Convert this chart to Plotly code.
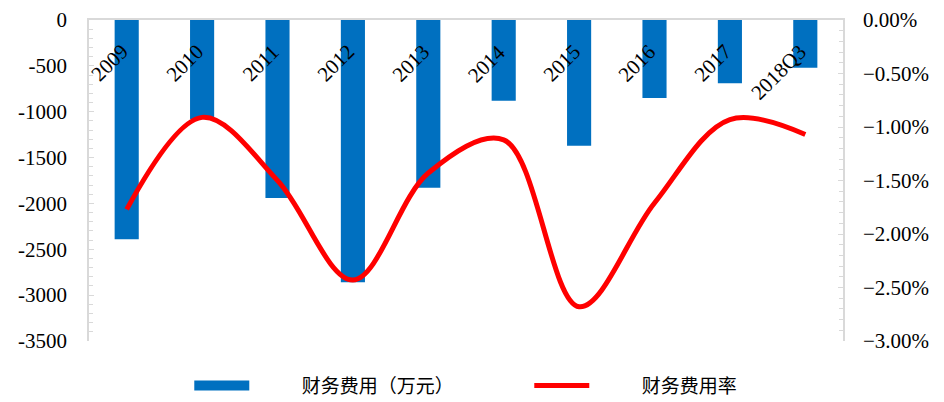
import plotly.graph_objects as go

categories = ["2009", "2010", "2011", "2012", "2013", "2014", "2015", "2016", "2017", "2018Q3"]
expense = [-2390, -1080, -1940, -2860, -1830, -880, -1370, -850, -690, -520]
expense_rate = [-0.0177, -0.0091, -0.0150, -0.0243, -0.0143, -0.0112, -0.0268, -0.0171, -0.0093, -0.0107]
left_ticks = [0, -500, -1000, -1500, -2000, -2500, -3000, -3500]
right_ticks = [0, -0.005, -0.01, -0.015, -0.02, -0.025, -0.03]

serif = "Times New Roman, Liberation Serif, serif"
cjk = "Noto Sans CJK SC"
axis_col = "#d9d9d9"
bar_col = "#0070C0"
pad = "\u2003\u2003\u2002"

fig = go.Figure()
fig.add_trace(go.Bar(
    x=categories, y=expense, name="财务费用（万元）",
    marker=dict(color=bar_col, line=dict(width=0)),
    yaxis="y", showlegend=False, legendgroup="bar",
))
# legend key for the bars (wide rectangle as in the reference)
fig.add_trace(go.Scatter(
    x=[None], y=[None], name=pad + "财务费用（万元）", mode="lines",
    line=dict(color=bar_col, width=11), legendgroup="bar", showlegend=True,
))
fig.add_trace(go.Scatter(
    x=categories, y=expense_rate, name=pad + "财务费用率",
    mode="lines", line=dict(color="#FF0000", width=5, shape="spline", smoothing=1.0),
    yaxis="y2",
))

for i, c in enumerate(categories):
    fig.add_annotation(
        x=i, y=1, xref="x", yref="paper", text=c, showarrow=False,
        textangle=-45, xanchor="right", yanchor="top", xshift=9, yshift=-17,
        font=dict(family=serif, size=21, color="black"),
    )

fig.update_layout(
    width=944, height=402,
    margin=dict(l=89, r=101, t=20, b=61, autoexpand=False),
    paper_bgcolor="white", plot_bgcolor="white",
    bargap=0.68,
    showlegend=True,
    legend=dict(orientation="h", x=0.133, xanchor="left", y=-0.08, yanchor="top",
                font=dict(family=cjk, size=19, color="black"),
                itemwidth=55, traceorder="normal", entrywidth=270),
    xaxis=dict(type="category", range=[-0.5, len(categories) - 0.5], side="top",
               showline=True, linecolor=axis_col, linewidth=1.5,
               showticklabels=False, ticks="", showgrid=False, zeroline=False),
    yaxis=dict(range=[-3500, 0], tickvals=left_ticks, ticktext=[str(v) for v in left_ticks],
               showline=True, linecolor=axis_col, linewidth=1.5,
               ticks="inside", ticklen=5, tickcolor=axis_col,
               minor=dict(dtick=100, ticks="inside", ticklen=4, tickcolor=axis_col),
               showgrid=False, zeroline=False, ticklabelstandoff=16,
               tickfont=dict(family=serif, size=21, color="black")),
    yaxis2=dict(range=[-0.03, 0], overlaying="y", side="right", tickvals=right_ticks,
                tickformat=".2%",
                showline=True, linecolor=axis_col, linewidth=1.5,
                ticks="inside", ticklen=5, tickcolor=axis_col,
                minor=dict(dtick=0.001, ticks="inside", ticklen=4, tickcolor=axis_col),
                showgrid=False, zeroline=False, ticklabelstandoff=14,
                tickfont=dict(family=serif, size=21, color="black")),
)

fig.write_html("out.html")
